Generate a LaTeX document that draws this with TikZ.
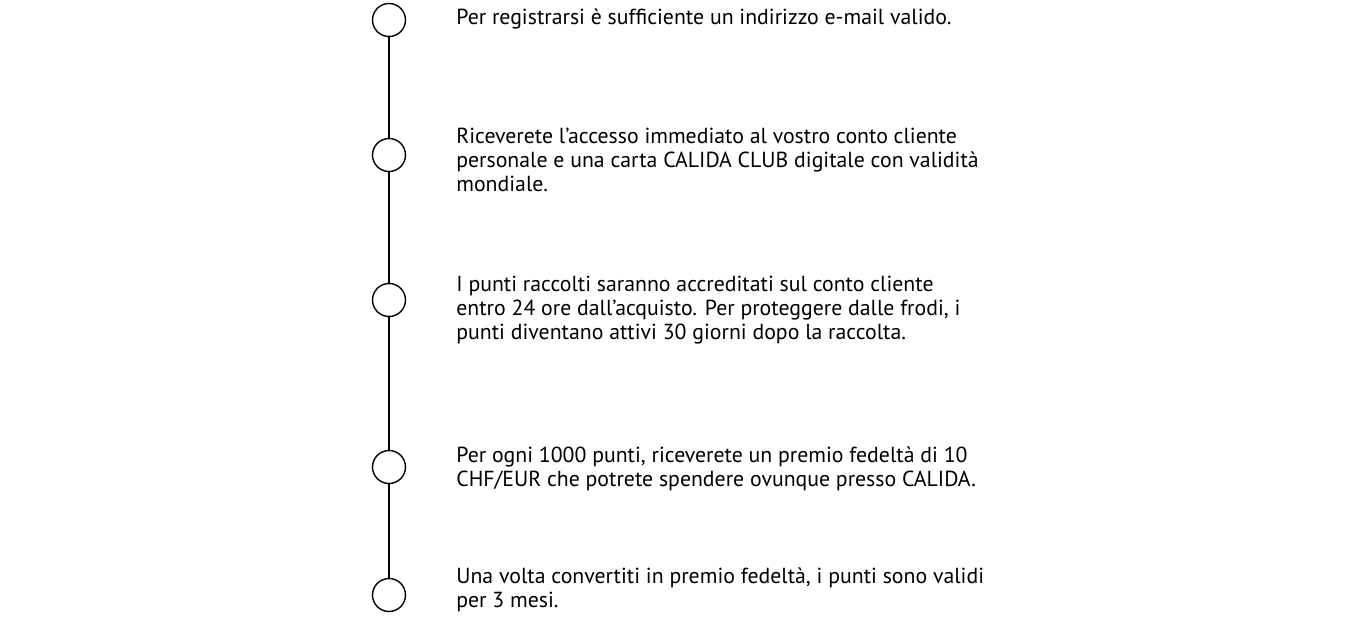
\documentclass[tikz,border=0pt]{standalone}
\usepackage{fontspec}
\setmainfont{PT Sans}
\begin{document}
\begin{tikzpicture}[x=0.02cm,y=-0.02cm,
    stepdot/.style={draw,thick,circle,minimum size=0.66cm,inner sep=0pt},
    steptext/.style={anchor=north west,inner sep=0pt,align=left,font=\fontsize{12.4}{13.7}\selectfont}]
                \useasboundingbox (0,0) rectangle (1360,618);
                % circles on the line
                \foreach \n/\y in {1/20,2/155,3/300,4/467,5/595}
                    \node[stepdot] (c\n) at (389,\y) {};
                \foreach \a/\b in {1/2,2/3,3/4,4/5}
                    \draw[thick] (c\a) -- (c\b);
    
                % texts
                \node[steptext] (t1) at (456,8) {Per registrarsi è sufficiente un indirizzo e-mail valido.};
                \node[steptext] (t2) at (456,128) {Riceverete l’accesso immediato al vostro conto cliente\\personale e una carta CALIDA CLUB digitale con validità\\mondiale.};
                \node[steptext] (t3) at (456,276) {I punti raccolti saranno accreditati sul conto cliente\\entro 24 ore dall’acquisto. Per proteggere dalle frodi, i\\punti diventano attivi 30 giorni dopo la raccolta.};
                \node[steptext] (t4) at (456,446) {Per ogni 1000 punti, riceverete un premio fedeltà di 10\\CHF/EUR che potrete spendere ovunque presso CALIDA.};
                \node[steptext] (t5) at (456,567) {Una volta convertiti in premio fedeltà, i punti sono validi\\per 3 mesi.};
\end{tikzpicture}
\end{document}
